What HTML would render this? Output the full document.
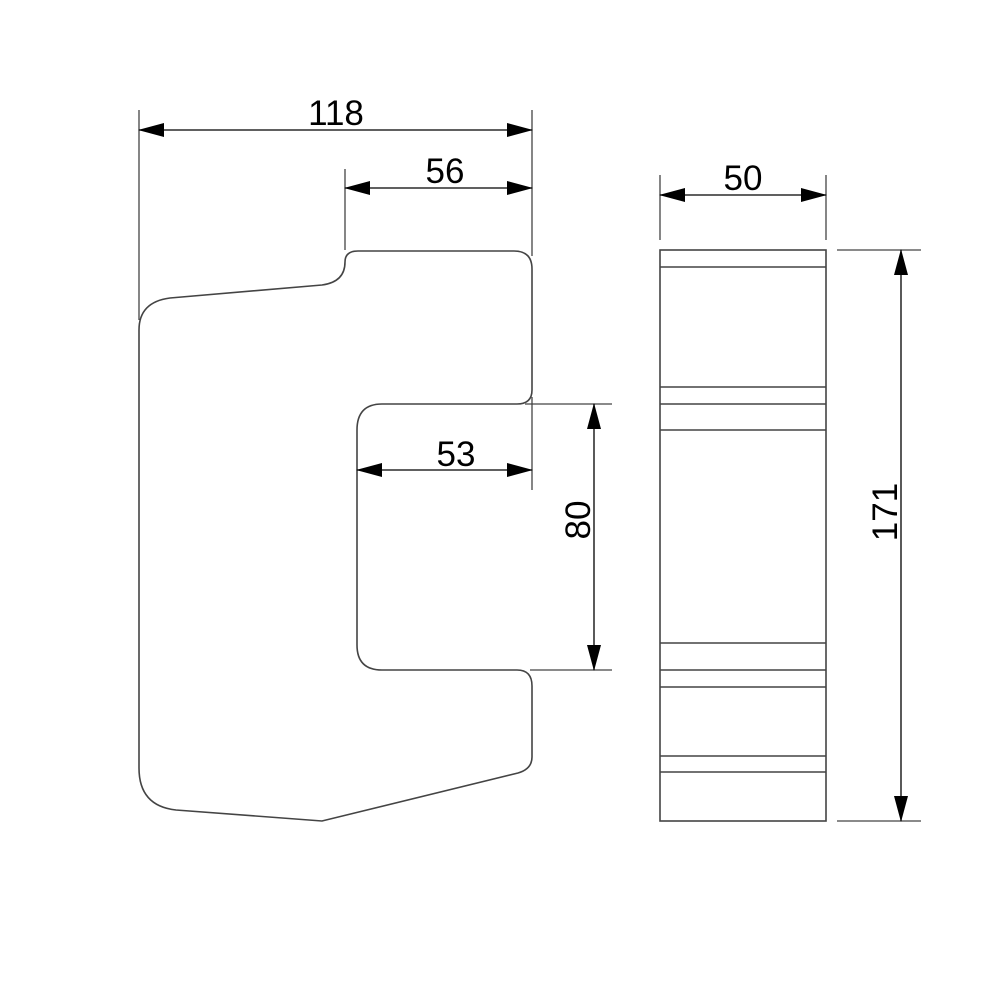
<!DOCTYPE html>
<html><head><meta charset="utf-8"><style>html,body{margin:0;padding:0;background:#fff}</style></head>
<body>
<svg width="1000" height="1000" viewBox="0 0 1000 1000" xmlns="http://www.w3.org/2000/svg">
<defs>
<marker id="a" markerWidth="26" markerHeight="14" refX="25" refY="7" orient="auto-start-reverse" markerUnits="userSpaceOnUse">
<path d="M0,0 L26,7 L0,14 Z" fill="#000"/>
</marker>
</defs>
<g fill="none" stroke="#444" stroke-width="1.6">
<path d="M139,330 Q139,302 170,298 L322,285 Q345,282 345,262 Q345,251 358,251 L514,251 Q532,251 532,269 L532,390 Q532,404 517,404 L382,404 Q357,404 357,430 L357,645 Q357,670 382,670 L517,670 Q532,670 532,686 L532,757 Q532,769 518,773 L322,821 L176,810 Q139,806 139,768 Z"/>
<rect x="660" y="250" width="166" height="571"/>
<path d="M660,267H826 M660,387H826 M660,404H826 M660,430H826 M660,643H826 M660,670H826 M660,687H826 M660,756H826 M660,772H826"/>
</g>
<g stroke="#444" stroke-width="1.3" fill="none">
<path d="M139,110V320 M532,110V256 M345,169V250 M532,397V490 M525,404H612 M530,670H612 M660,175V240 M826,175V240 M837,250H921 M837,821H921"/>
</g>
<g stroke="#000" stroke-width="1.3">
<line x1="139" y1="130" x2="532" y2="130" marker-start="url(#a)" marker-end="url(#a)"/>
<line x1="345" y1="188" x2="532" y2="188" marker-start="url(#a)" marker-end="url(#a)"/>
<line x1="357" y1="470" x2="532" y2="470" marker-start="url(#a)" marker-end="url(#a)"/>
<line x1="594" y1="404" x2="594" y2="670" marker-start="url(#a)" marker-end="url(#a)"/>
<line x1="660" y1="195" x2="826" y2="195" marker-start="url(#a)" marker-end="url(#a)"/>
<line x1="901" y1="250" x2="901" y2="821" marker-start="url(#a)" marker-end="url(#a)"/>
</g>
<g font-family="Liberation Sans, sans-serif" font-size="35" fill="#000" text-anchor="middle">
<text x="336" y="125">118</text>
<text x="445" y="183">56</text>
<text x="456" y="466">53</text>
<text x="743" y="190">50</text>
<text transform="translate(590,520) rotate(-90)">80</text>
<text transform="translate(897,512) rotate(-90)">171</text>
</g>
</svg>
</body></html>
